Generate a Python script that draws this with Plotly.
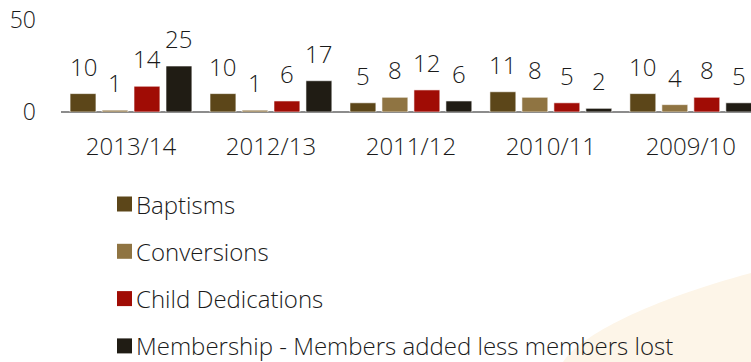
import plotly.graph_objects as go

# Annual figures, newest year first
years = ["2013/14", "2012/13", "2011/12", "2010/11", "2009/10"]
baptisms = [10, 10, 5, 11, 10]
conversions = [1, 1, 8, 8, 4]
child_dedications = [14, 6, 12, 5, 8]
membership = [25, 17, 6, 2, 5]

series_names = [
    "Baptisms",
    "Conversions",
    "Child Dedications",
    "Membership - Members added less members lost",
]
series_values = [baptisms, conversions, child_dedications, membership]
series_colors = ["#5C4619", "#8F7442", "#A00C05", "#201C14"]

FONT = "'Open Sans', Lato, sans-serif"
TEXT_COLOR = "#1A1A1A"
BARGAP = 0.086
BARGROUPGAP = 0.19

W, H = 751, 362
M_L, M_R, M_T, M_B = 61, 0, 20, 250
PW, PH = W - M_L - M_R, H - M_T - M_B


def px_to_paper(px, py):
    """Convert a pixel position on the page to paper coordinates."""
    return (px - M_L) / PW, (H - M_B - py) / PH


fig = go.Figure()

for name, vals, col in zip(series_names, series_values, series_colors):
    fig.add_trace(go.Bar(
        x=years, y=vals, name=name,
        marker=dict(color=col, line=dict(color="rgba(255,255,255,0.6)", width=1)),
        showlegend=False,
    ))

# Value labels above each bar, positioned at the bar's own slot in its group
n = len(series_values)
slot = (1 - BARGAP) / n
annotations = []
for k, vals in enumerate(series_values):
    offset = (k - (n - 1) / 2) * slot
    for i, v in enumerate(vals):
        annotations.append(dict(
            x=i + offset, y=v, xref="x", yref="y",
            text=str(v), showarrow=False, yanchor="bottom", yshift=9,
            font=dict(family=FONT, size=24, color=TEXT_COLOR, weight=300),
        ))

shapes = []

# Soft peach wedge in the lower right corner
p0 = px_to_paper(563, H)
c1 = px_to_paper(580, 335)
c2 = px_to_paper(650, 300)
p1 = px_to_paper(W, 273)
shapes.append(dict(
    type="path", xref="paper", yref="paper", layer="below",
    path=(f"M {p0[0]},{p0[1]} C {c1[0]},{c1[1]} {c2[0]},{c2[1]} {p1[0]},{p1[1]} "
          f"L {p1[0]},{p0[1]} Z"),
    fillcolor="#FDF5E8", line=dict(width=0),
))

# Legend: coloured squares with labels, stacked vertically
LEG_X, LEG_Y0, LEG_STEP, SWATCH = 117, 204, 47.3, 15
for k, (name, col) in enumerate(zip(series_names, series_colors)):
    cy_px = LEG_Y0 + k * LEG_STEP
    sx0, sy0 = px_to_paper(LEG_X, cy_px + SWATCH / 2)
    sx1, sy1 = px_to_paper(LEG_X + SWATCH, cy_px - SWATCH / 2)
    shapes.append(dict(
        type="rect", xref="paper", yref="paper", x0=sx0, y0=sy0, x1=sx1, y1=sy1,
        fillcolor=col, line=dict(width=0),
    ))
    tx, ty = px_to_paper(LEG_X + SWATCH + 2, cy_px)
    annotations.append(dict(
        x=tx, y=ty, xref="paper", yref="paper", text=name, showarrow=False,
        xanchor="left", yanchor="middle",
        font=dict(family=FONT, size=24, color=TEXT_COLOR, weight=300),
    ))

fig.update_layout(
    width=W, height=H,
    margin=dict(l=M_L, r=M_R, t=M_T, b=M_B),
    paper_bgcolor="white", plot_bgcolor="rgba(0,0,0,0)",
    barmode="group", bargap=BARGAP, bargroupgap=BARGROUPGAP,
    font=dict(family=FONT, color=TEXT_COLOR),
    annotations=annotations,
    shapes=shapes,
    showlegend=False,
    xaxis=dict(
        type="category", range=[-0.5, 4.43], showgrid=False, zeroline=False,
        showline=False, ticks="",
        tickfont=dict(family=FONT, size=24, color=TEXT_COLOR, weight=300),
        ticklabelstandoff=18,
    ),
    yaxis=dict(
        range=[0, 50], tickvals=[0, 50], showgrid=True, gridcolor="#8C8C8C", gridwidth=2,
        zeroline=True, zerolinecolor="#8C8C8C", zerolinewidth=2, showline=False,
        ticks="", tickfont=dict(family=FONT, size=23, color=TEXT_COLOR, weight=300),
        ticklabelstandoff=24,
    ),
)

fig.write_html("out.html")
